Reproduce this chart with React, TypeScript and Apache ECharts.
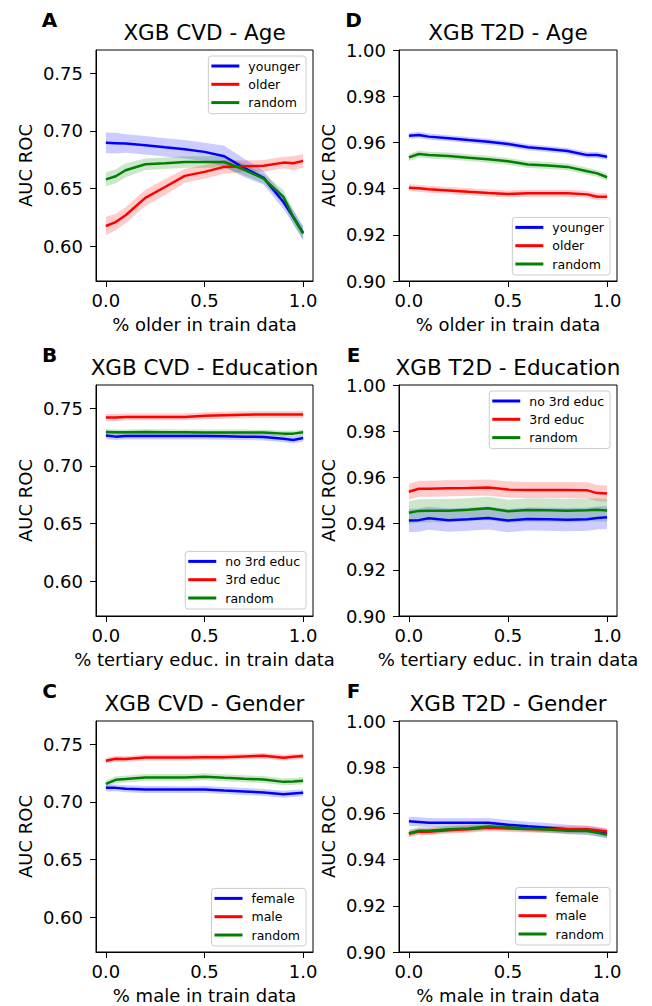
import React, { useEffect, useRef } from "react";
import * as echarts from "echarts";

// ---------- data ----------
const trainShare = [0, 0.05, 0.1, 0.2, 0.3, 0.4, 0.5, 0.6, 0.7, 0.8, 0.9, 0.95, 1.0];

// A: XGB CVD - Age
const cvdAgeYounger = [0.6896, 0.6893, 0.689, 0.6875, 0.6857, 0.684, 0.6818, 0.678, 0.668, 0.6593, 0.6384, 0.6254, 0.6116];
const cvdAgeYoungerErr = [0.009, 0.009, 0.008, 0.008, 0.008, 0.008, 0.008, 0.009, 0.008, 0.006, 0.006, 0.006, 0.006];
const cvdAgeOlder = [0.6176, 0.621, 0.6269, 0.642, 0.6514, 0.661, 0.6645, 0.6688, 0.6694, 0.6697, 0.6725, 0.672, 0.674];
const cvdAgeOlderErr = [0.008, 0.007, 0.007, 0.007, 0.007, 0.006, 0.006, 0.006, 0.005, 0.005, 0.005, 0.006, 0.006];
const cvdAgeRandom = [0.658, 0.6607, 0.6659, 0.6711, 0.672, 0.6731, 0.6731, 0.673, 0.6665, 0.6587, 0.6428, 0.6254, 0.611];
const cvdAgeRandomErr = [0.006, 0.006, 0.006, 0.005, 0.005, 0.005, 0.005, 0.005, 0.005, 0.004, 0.006, 0.006, 0.006];

// B: XGB CVD - Education
const cvdEduNo3rd = [0.7262, 0.7253, 0.7259, 0.7259, 0.7259, 0.7259, 0.7259, 0.7256, 0.7253, 0.725, 0.7235, 0.7224, 0.7241];
const cvdEduNo3rdErr = [0.003, 0.003, 0.003, 0.003, 0.003, 0.003, 0.003, 0.003, 0.003, 0.003, 0.003, 0.003, 0.003];
const cvdEdu3rd = [0.7419, 0.7419, 0.7424, 0.7424, 0.7424, 0.7424, 0.7433, 0.7439, 0.7442, 0.7445, 0.7445, 0.7445, 0.7445];
const cvdEdu3rdErr = [0.003, 0.003, 0.003, 0.003, 0.003, 0.003, 0.003, 0.003, 0.003, 0.003, 0.003, 0.003, 0.003];
const cvdEduRandom = [0.7294, 0.729, 0.729, 0.7292, 0.7291, 0.729, 0.7289, 0.7289, 0.7289, 0.7288, 0.7279, 0.7279, 0.729];
const cvdEduRandomErr = [0.0025, 0.0025, 0.0025, 0.0025, 0.0025, 0.0025, 0.0025, 0.0025, 0.0025, 0.0025, 0.0025, 0.0025, 0.0025];

// C: XGB CVD - Gender
const cvdSexFemale = [0.7121, 0.7121, 0.7113, 0.7107, 0.7107, 0.7106, 0.7107, 0.7098, 0.709, 0.7081, 0.7066, 0.7072, 0.7078];
const cvdSexFemaleErr = [0.003, 0.003, 0.003, 0.003, 0.003, 0.003, 0.003, 0.003, 0.003, 0.003, 0.003, 0.003, 0.003];
const cvdSexMale = [0.7355, 0.7373, 0.737, 0.7384, 0.7384, 0.7384, 0.7387, 0.7387, 0.7393, 0.7399, 0.7382, 0.739, 0.7396];
const cvdSexMaleErr = [0.0025, 0.0025, 0.0025, 0.0025, 0.0025, 0.0025, 0.0025, 0.0025, 0.0025, 0.0025, 0.0025, 0.0025, 0.0025];
const cvdSexRandom = [0.7156, 0.7191, 0.7197, 0.7211, 0.7211, 0.7211, 0.7217, 0.7208, 0.72, 0.7194, 0.7173, 0.7176, 0.7182];
const cvdSexRandomErr = [0.003, 0.003, 0.003, 0.003, 0.003, 0.003, 0.003, 0.003, 0.003, 0.003, 0.003, 0.003, 0.003];

// D: XGB T2D - Age
const t2dAgeYounger = [0.9629, 0.9632, 0.9625, 0.9618, 0.961, 0.9603, 0.9593, 0.9579, 0.9571, 0.9563, 0.9545, 0.9545, 0.9538];
const t2dAgeYoungerErr = [0.0013, 0.0013, 0.0013, 0.0013, 0.0013, 0.0013, 0.0013, 0.0013, 0.0013, 0.0013, 0.0013, 0.0013, 0.0013];
const t2dAgeOlder = [0.9404, 0.9401, 0.9397, 0.9392, 0.9386, 0.9381, 0.9377, 0.938, 0.938, 0.938, 0.9375, 0.9365, 0.9365];
const t2dAgeOlderErr = [0.0015, 0.0015, 0.0015, 0.0015, 0.0015, 0.0015, 0.0015, 0.0015, 0.0015, 0.0015, 0.0015, 0.0015, 0.0015];
const t2dAgeRandom = [0.9535, 0.955, 0.9545, 0.9541, 0.9534, 0.9527, 0.9518, 0.9504, 0.95, 0.9494, 0.9475, 0.9466, 0.9449];
const t2dAgeRandomErr = [0.0015, 0.0015, 0.0015, 0.0015, 0.0015, 0.0015, 0.0015, 0.0015, 0.0015, 0.0015, 0.0015, 0.0015, 0.0015];

// E: XGB T2D - Education
const t2dEduNo3rd = [0.9413, 0.9415, 0.9423, 0.9415, 0.9419, 0.9424, 0.9413, 0.942, 0.9419, 0.9417, 0.9419, 0.9424, 0.9427];
const t2dEduNo3rdErr = [0.005, 0.005, 0.005, 0.005, 0.005, 0.005, 0.005, 0.005, 0.005, 0.005, 0.005, 0.005, 0.005];
const t2dEdu3rd = [0.9538, 0.9551, 0.9551, 0.9553, 0.9554, 0.9556, 0.9548, 0.9545, 0.9545, 0.9545, 0.9544, 0.9532, 0.953];
const t2dEdu3rdErr = [0.0035, 0.0035, 0.0035, 0.0035, 0.0035, 0.0035, 0.0035, 0.0035, 0.0035, 0.0035, 0.0035, 0.0035, 0.0035];
const t2dEduRandom = [0.9447, 0.9455, 0.9456, 0.9456, 0.946, 0.9466, 0.9453, 0.9459, 0.9458, 0.9456, 0.9458, 0.946, 0.9457];
const t2dEduRandomErr = [0.005, 0.005, 0.005, 0.005, 0.005, 0.005, 0.005, 0.005, 0.005, 0.005, 0.005, 0.005, 0.005];

// F: XGB T2D - Gender
const t2dSexFemale = [0.9566, 0.9563, 0.956, 0.9559, 0.9559, 0.956, 0.9551, 0.9544, 0.9538, 0.9531, 0.9527, 0.952, 0.9512];
const t2dSexFemaleErr = [0.002, 0.002, 0.002, 0.002, 0.002, 0.002, 0.002, 0.002, 0.002, 0.002, 0.002, 0.002, 0.002];
const t2dSexMale = [0.9512, 0.9521, 0.9521, 0.9527, 0.9531, 0.9538, 0.9535, 0.9532, 0.9531, 0.9531, 0.9531, 0.9527, 0.9522];
const t2dSexMaleErr = [0.0015, 0.0015, 0.0015, 0.0015, 0.0015, 0.0015, 0.0015, 0.0015, 0.0015, 0.0015, 0.0015, 0.0015, 0.0015];
const t2dSexRandom = [0.9514, 0.9525, 0.9525, 0.9531, 0.9535, 0.9543, 0.954, 0.9535, 0.953, 0.9525, 0.9524, 0.9516, 0.9507];
const t2dSexRandomErr = [0.0015, 0.0015, 0.0015, 0.0015, 0.0015, 0.0015, 0.0015, 0.0015, 0.0015, 0.0015, 0.0015, 0.0015, 0.0015];

const cvdTicks = [0.6, 0.65, 0.7, 0.75];
const t2dTicks = [0.9, 0.92, 0.94, 0.96, 0.98, 1.0];
const xTicks = [0, 0.5, 1.0];

// ---------- styling ----------
const BLUE = "#0000ff";
const RED = "#ff0000";
const GREEN = "#008000";
const BAND: Record<string, string> = {
  [BLUE]: "rgba(0,0,255,0.2)",
  [RED]: "rgba(255,0,0,0.2)",
  [GREEN]: "rgba(0,128,0,0.2)",
};
const FONT = "DejaVu Sans";
const W = 652;
const H = 1006;
const colLeft = [96, 399];
const colWidth = [217, 218];
const rowTop = [50, 385, 721];
const plotH = 231;

type Group = { name: string; color: string; mean: number[]; err: number[] };
type Panel = {
  letter: string;
  title: string;
  xlabel: string;
  col: number;
  row: number;
  yMin: number;
  yMax: number;
  yTicks: number[];
  yDigits: number;
  groups: Group[];
  legendPos: Record<string, number>;
};

const panels: Panel[] = [
  {
    letter: "A", title: "XGB CVD - Age", xlabel: "% older in train data", col: 0, row: 0,
    yMin: 0.57, yMax: 0.77, yTicks: cvdTicks, yDigits: 2,
    groups: [
      { name: "younger", color: BLUE, mean: cvdAgeYounger, err: cvdAgeYoungerErr },
      { name: "older", color: RED, mean: cvdAgeOlder, err: cvdAgeOlderErr },
      { name: "random", color: GREEN, mean: cvdAgeRandom, err: cvdAgeRandomErr },
    ],
    legendPos: { right: W - 306, top: 56 },
  },
  {
    letter: "B", title: "XGB CVD - Education", xlabel: "% tertiary educ. in train data", col: 0, row: 1,
    yMin: 0.57, yMax: 0.77, yTicks: cvdTicks, yDigits: 2,
    groups: [
      { name: "no 3rd educ", color: BLUE, mean: cvdEduNo3rd, err: cvdEduNo3rdErr },
      { name: "3rd educ", color: RED, mean: cvdEdu3rd, err: cvdEdu3rdErr },
      { name: "random", color: GREEN, mean: cvdEduRandom, err: cvdEduRandomErr },
    ],
    legendPos: { right: W - 306, bottom: H - 609 },
  },
  {
    letter: "C", title: "XGB CVD - Gender", xlabel: "% male in train data", col: 0, row: 2,
    yMin: 0.57, yMax: 0.77, yTicks: cvdTicks, yDigits: 2,
    groups: [
      { name: "female", color: BLUE, mean: cvdSexFemale, err: cvdSexFemaleErr },
      { name: "male", color: RED, mean: cvdSexMale, err: cvdSexMaleErr },
      { name: "random", color: GREEN, mean: cvdSexRandom, err: cvdSexRandomErr },
    ],
    legendPos: { right: W - 306, bottom: H - 946 },
  },
  {
    letter: "D", title: "XGB T2D - Age", xlabel: "% older in train data", col: 1, row: 0,
    yMin: 0.9, yMax: 1.0, yTicks: t2dTicks, yDigits: 2,
    groups: [
      { name: "younger", color: BLUE, mean: t2dAgeYounger, err: t2dAgeYoungerErr },
      { name: "older", color: RED, mean: t2dAgeOlder, err: t2dAgeOlderErr },
      { name: "random", color: GREEN, mean: t2dAgeRandom, err: t2dAgeRandomErr },
    ],
    legendPos: { right: W - 610, bottom: H - 275 },
  },
  {
    letter: "E", title: "XGB T2D - Education", xlabel: "% tertiary educ. in train data", col: 1, row: 1,
    yMin: 0.9, yMax: 1.0, yTicks: t2dTicks, yDigits: 2,
    groups: [
      { name: "no 3rd educ", color: BLUE, mean: t2dEduNo3rd, err: t2dEduNo3rdErr },
      { name: "3rd educ", color: RED, mean: t2dEdu3rd, err: t2dEdu3rdErr },
      { name: "random", color: GREEN, mean: t2dEduRandom, err: t2dEduRandomErr },
    ],
    legendPos: { right: W - 610, top: 391 },
  },
  {
    letter: "F", title: "XGB T2D - Gender", xlabel: "% male in train data", col: 1, row: 2,
    yMin: 0.9, yMax: 1.0, yTicks: t2dTicks, yDigits: 2,
    groups: [
      { name: "female", color: BLUE, mean: t2dSexFemale, err: t2dSexFemaleErr },
      { name: "male", color: RED, mean: t2dSexMale, err: t2dSexMaleErr },
      { name: "random", color: GREEN, mean: t2dSexRandom, err: t2dSexRandomErr },
    ],
    legendPos: { right: W - 610, bottom: H - 945 },
  },
];

function buildOption() {
  const grid: any[] = [];
  const xAxis: any[] = [];
  const yAxis: any[] = [];
  const series: any[] = [];
  const legend: any[] = [];
  const graphic: any[] = [];

  panels.forEach((p, pi) => {
    const left = colLeft[p.col];
    const width = colWidth[p.col];
    const top = rowTop[p.row];
    grid.push({
      left, top, width, height: plotH,
      show: true, borderColor: "#000", borderWidth: 1, backgroundColor: "transparent",
      containLabel: false, outerBoundsMode: "none",
    });
    xAxis.push({
      type: "value", gridIndex: pi, min: -0.05, max: 1.05,
      name: p.xlabel, nameLocation: "middle", nameGap: 34,
      nameTextStyle: { fontFamily: FONT, fontSize: 18, color: "#000" },
      axisLine: { show: true, onZero: false, lineStyle: { color: "#000", width: 1 } },
      axisTick: { show: true, length: 6, lineStyle: { color: "#000", width: 1 }, customValues: xTicks },
      axisLabel: {
        fontFamily: FONT, fontSize: 18, color: "#000", margin: 10, customValues: xTicks,
        formatter: (v: number) => v.toFixed(1),
      },
      splitLine: { show: false },
    });
    yAxis.push({
      type: "value", gridIndex: pi, min: p.yMin, max: p.yMax,
      name: "AUC ROC", nameLocation: "middle", nameGap: 62, nameRotate: 90,
      nameTextStyle: { fontFamily: FONT, fontSize: 18, color: "#000" },
      axisLine: { show: true, onZero: false, lineStyle: { color: "#000", width: 1 } },
      axisTick: { show: true, length: 6, lineStyle: { color: "#000", width: 1 }, customValues: p.yTicks },
      axisLabel: {
        fontFamily: FONT, fontSize: 18, color: "#000", margin: 13, customValues: p.yTicks,
        formatter: (v: number) => v.toFixed(p.yDigits),
      },
      splitLine: { show: false },
    });

    p.groups.forEach((g) => {
      const bandData = trainShare.map((x, i) => [x, g.mean[i] - g.err[i], g.mean[i] + g.err[i]]);
      const fill = BAND[g.color];
      series.push({
        type: "custom",
        name: g.name + " band",
        xAxisIndex: pi, yAxisIndex: pi,
        silent: true, z: 1,
        data: bandData,
        encode: { x: 0, y: [1, 2] },
        renderItem: (params: any, api: any) => {
          if (params.dataIndex !== 0) return null;
          const upper = bandData.map((d) => api.coord([d[0], d[2]]));
          const lower = bandData.map((d) => api.coord([d[0], d[1]])).reverse();
          return {
            type: "polygon",
            shape: { points: upper.concat(lower) },
            style: { fill, stroke: null },
          };
        },
      });
    });
    p.groups.forEach((g) => {
      series.push({
        type: "line",
        name: g.name,
        xAxisIndex: pi, yAxisIndex: pi,
        color: g.color,
        data: trainShare.map((x, i) => [x, g.mean[i]]),
        symbol: "none", showSymbol: false, z: 3,
        lineStyle: { color: g.color, width: 2.5 },
        itemStyle: { color: g.color },
      });
    });

    legend.push({
      ...p.legendPos,
      orient: "vertical",
      data: p.groups.map((g) => g.name),
      icon: "rect",
      itemWidth: 28,
      itemHeight: 3,
      itemGap: 4.3,
      padding: [3, 6, 4, 3],
      backgroundColor: "rgba(255,255,255,0.8)",
      borderColor: "#cccccc",
      borderWidth: 1,
      borderRadius: 3,
      selectedMode: false,
      textStyle: { fontFamily: FONT, fontSize: 12.5, color: "#000", lineHeight: 14, padding: [0, 0, 0, 4] },
    });

    const cx = left + width / 2;
    graphic.push({
      type: "text",
      x: cx, y: top - 18,
      style: { text: p.title, fontFamily: FONT, fontSize: 21.5, fill: "#000", align: "center", verticalAlign: "middle" },
    });
    graphic.push({
      type: "text",
      x: p.col === 0 ? 49.5 : 353.5, y: top - 30.5,
      style: { text: p.letter, fontFamily: FONT, fontSize: 20, fontWeight: "bold", fill: "#000", align: "center", verticalAlign: "middle" },
    });
  });

  return {
    animation: false,
    backgroundColor: "#fff",
    grid, xAxis, yAxis, series, legend, graphic,
  };
}

export default function App() {
  const ref = useRef<HTMLDivElement | null>(null);
  useEffect(() => {
    if (!ref.current) return;
    const chart = echarts.init(ref.current, null, { renderer: "svg" });
    chart.setOption(buildOption() as any);
    return () => chart.dispose();
  }, []);
  return (
    <div
      ref={ref}
      style={{ position: "fixed", left: 0, top: 0, width: W, height: H, background: "#fff" }}
    />
  );
}
